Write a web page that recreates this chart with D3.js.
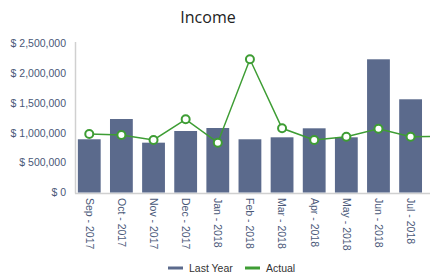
<!DOCTYPE html>
<html>
<head>
<meta charset="utf-8">
<script src="https://cdn.jsdelivr.net/npm/d3@7"></script>
<style>
  body { margin: 0; background: #fff; }
  svg { display: block; overflow: hidden; }
</style>
</head>
<body>
<script>
const months = ["Sep - 2017", "Oct - 2017", "Nov - 2017", "Dec - 2017", "Jan - 2018", "Feb - 2018",
  "Mar - 2018", "Apr - 2018", "May - 2018", "Jun - 2018", "Jul - 2018", "Aug - 2018"];
const lastYear = [893000, 1233000, 836000, 1032000, 1082000, 893000,
  926000, 1077000, 926000, 2235000, 1564000, 1200000];
const actual = [981000, 965000, 881000, 1228000, 836000, 2235000,
  1077000, 881000, 936000, 1070000, 936000, 940000];
const yTicks = [0, 500000, 1000000, 1500000, 2000000, 2500000];

const width = 430;
const height = 280;
const textColor = "#4a5878";
const barColor = "#5b6a8c";
const lineColor = "#3e9d34";

const svg = d3.select("body")
  .append("svg")
  .attr("width", width)
  .attr("height", height);

// the chart is wider than the window, last month is cut off
const x = d3.scaleBand()
  .domain(months)
  .range([74, 458])
  .paddingInner(0.29)
  .paddingOuter(0.12);

const y = d3.scaleLinear()
  .domain([0, 2500000])
  .range([192.5, 43.5]);

svg.append("text")
  .attr("x", 208)
  .attr("y", 23)
  .attr("text-anchor", "middle")
  .attr("font-family", "Open Sans, sans-serif")
  .attr("font-size", 16)
  .attr("fill", "#222")
  .text("Income");

// y axis labels
const fmt = d3.format(",");
svg.append("g")
  .selectAll("text")
  .data(yTicks)
  .join("text")
  .attr("x", 66)
  .attr("y", (d) => y(d))
  .attr("dy", "0.35em")
  .attr("text-anchor", "end")
  .attr("font-family", "Liberation Sans, Arial, sans-serif")
  .attr("font-size", 10.5)
  .attr("fill", textColor)
  .text((d) => "$ " + fmt(d));

// axis lines
svg.append("line")
  .attr("x1", 75.5).attr("x2", 75.5)
  .attr("y1", 42).attr("y2", y(0) + 1)
  .attr("stroke", "#d0d0d0").attr("stroke-width", 1.5);
svg.append("line")
  .attr("x1", 75).attr("x2", width)
  .attr("y1", y(0) + 1).attr("y2", y(0) + 1)
  .attr("stroke", "#d0d0d0").attr("stroke-width", 1.5);

// bars
svg.append("g")
  .selectAll("rect")
  .data(lastYear)
  .join("rect")
  .attr("x", (d, i) => x(months[i]))
  .attr("width", x.bandwidth())
  .attr("y", (d) => y(d))
  .attr("height", (d) => y(0) - y(d))
  .attr("fill", barColor);

// x labels (only the months that fit in the window)
svg.append("g")
  .selectAll("text")
  .data(months.filter((d) => x(d) + x.bandwidth() / 2 < width))
  .join("text")
  .attr("transform", (d) => `translate(${x(d) + x.bandwidth() / 2},198) rotate(90)`)
  .attr("dy", "0.35em")
  .attr("font-family", "Liberation Sans, Arial, sans-serif")
  .attr("font-size", 10.5)
  .attr("fill", textColor)
  .text((d) => d);

// actual line
const cx = (i) => x(months[i]) + x.bandwidth() / 2;
svg.append("path")
  .datum(actual)
  .attr("fill", "none")
  .attr("stroke", lineColor)
  .attr("stroke-width", 1.5)
  .attr("d", d3.line().x((d, i) => cx(i)).y((d) => y(d)));

svg.append("g")
  .selectAll("circle")
  .data(actual)
  .join("circle")
  .attr("cx", (d, i) => cx(i))
  .attr("cy", (d) => y(d))
  .attr("r", 4)
  .attr("fill", "#fff")
  .attr("stroke", lineColor)
  .attr("stroke-width", 2);

// legend
const legend = svg.append("g")
  .attr("font-family", "Liberation Sans, Arial, sans-serif")
  .attr("font-size", 10.5)
  .attr("fill", "#333");
const items = [["Last Year", barColor, 168], ["Actual", lineColor, 245]];
items.forEach(([label, color, lx]) => {
  legend.append("line")
    .attr("x1", lx).attr("x2", lx + 15)
    .attr("y1", 268).attr("y2", 268)
    .attr("stroke", color).attr("stroke-width", 3);
  legend.append("text")
    .attr("x", lx + 21)
    .attr("y", 268)
    .attr("dy", "0.35em")
    .text(label);
});
</script>
</body>
</html>
